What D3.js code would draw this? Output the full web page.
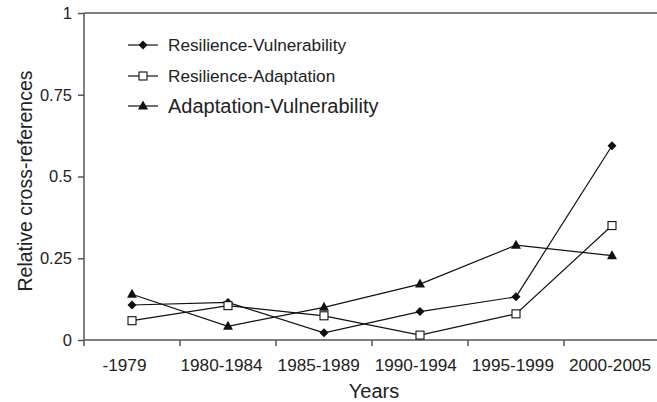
<!DOCTYPE html>
<html>
<head>
<meta charset="utf-8">
<script src="https://cdn.jsdelivr.net/npm/d3@7"></script>
<style>
  body { margin: 0; background: #fff; }
  text { font-family: "Liberation Sans", Arial, sans-serif; fill: #222; }
</style>
</head>
<body>
<div id="wrapper"></div>
<script>
// Chart data
const periods = ["-1979", "1980-1984", "1985-1989", "1990-1994", "1995-1999", "2000-2005"];
const resVul = [0.107, 0.115, 0.022, 0.087, 0.132, 0.594];
const resAda = [0.059, 0.105, 0.074, 0.015, 0.080, 0.350];
const adaVul = [0.140, 0.042, 0.100, 0.171, 0.290, 0.258];
const yTicks = [0, 0.25, 0.5, 0.75, 1];

const series = [
  { name: "Resilience-Vulnerability", values: resVul, marker: "diamond", size: 17.2 },
  { name: "Resilience-Adaptation", values: resAda, marker: "square", size: 17.2 },
  { name: "Adaptation-Vulnerability", values: adaVul, marker: "triangle", size: 20 }
];

const width = 657, height = 402;
const margin = { top: 13, right: -3, bottom: 62, left: 84 };

const svg = d3.select("#wrapper")
  .append("svg")
  .attr("width", width)
  .attr("height", height);

const x = d3.scaleBand()
  .domain(periods)
  .range([margin.left, width - margin.right]);

// tick labels sit a little left of the point centres in the original
const xLabel = d3.scalePoint()
  .domain(periods)
  .range([124.5, 610]);

const y = d3.scaleLinear()
  .domain([0, 1])
  .range([height - margin.bottom, margin.top]);

const axisColor = "#555";

// top border line
svg.append("line")
  .attr("x1", margin.left).attr("x2", width)
  .attr("y1", y(1)).attr("y2", y(1))
  .attr("stroke", axisColor).attr("stroke-width", 1.5);

// y axis
const yAxis = svg.append("g")
  .attr("transform", `translate(${margin.left},0)`)
  .call(d3.axisLeft(y).tickValues(yTicks).tickSize(6).tickPadding(6)
    .tickFormat(d => String(d)));
yAxis.selectAll("path, line").attr("stroke", axisColor).attr("stroke-width", 1.5);
yAxis.select(".domain").attr("d", `M0,${y(0)}V${y(1)}`);
yAxis.selectAll("text").style("font-size", "16.5px").attr("fill", "#222");

// x axis with ticks at band boundaries
const xAxisG = svg.append("g")
  .attr("transform", `translate(0,${y(0)})`);
xAxisG.append("line")
  .attr("x1", margin.left).attr("x2", width)
  .attr("stroke", axisColor).attr("stroke-width", 1.5);
xAxisG.selectAll(".xtick")
  .data(periods)
  .enter()
  .append("line")
    .attr("x1", d => x(d)).attr("x2", d => x(d))
    .attr("y1", 0).attr("y2", 6)
    .attr("stroke", axisColor).attr("stroke-width", 1.5);
xAxisG.selectAll(".xlabel")
  .data(periods)
  .enter()
  .append("text")
    .attr("x", d => xLabel(d))
    .attr("y", 31)
    .attr("text-anchor", "middle")
    .style("font-size", "17.2px")
    .text(d => d);

// axis titles
svg.append("text")
  .attr("x", 374)
  .attr("y", 398)
  .attr("text-anchor", "middle")
  .style("font-size", "20px")
  .text("Years");

svg.append("text")
  .attr("transform", "translate(32,181) rotate(-90)")
  .attr("text-anchor", "middle")
  .style("font-size", "19.5px")
  .text("Relative cross-references");

// markers
const drawMarker = (g, type, cx, cy) => {
  if (type === "diamond") {
    g.append("path")
      .attr("d", "M0,-4.5L4.5,0L0,4.5L-4.5,0Z")
      .attr("transform", `translate(${cx},${cy})`)
      .attr("fill", "#111");
  } else if (type === "square") {
    g.append("rect")
      .attr("x", cx - 4).attr("y", cy - 4)
      .attr("width", 8).attr("height", 8)
      .attr("fill", "#fff").attr("stroke", "#111").attr("stroke-width", 1.1);
  } else {
    g.append("path")
      .attr("d", "M0,-5.5L5,3.5L-5,3.5Z")
      .attr("transform", `translate(${cx},${cy})`)
      .attr("fill", "#111");
  }
};

const line = d3.line()
  .x((d, i) => x(periods[i]) + x.bandwidth() / 2)
  .y(d => y(d));

series.forEach(s => {
  svg.append("path")
    .datum(s.values)
    .attr("d", line)
    .attr("fill", "none")
    .attr("stroke", "#111")
    .attr("stroke-width", 1.2);
});

series.forEach(s => {
  const g = svg.append("g");
  s.values.forEach((v, i) => drawMarker(g, s.marker, x(periods[i]) + x.bandwidth() / 2, y(v)));
});

// legend
const legendY = [45, 76, 106];
series.forEach((s, i) => {
  const g = svg.append("g");
  g.append("line")
    .attr("x1", 128).attr("x2", 158)
    .attr("y1", legendY[i]).attr("y2", legendY[i])
    .attr("stroke", "#111").attr("stroke-width", 1.2);
  drawMarker(g, s.marker, 143, legendY[i]);
  g.append("text")
    .attr("x", 168)
    .attr("y", legendY[i])
    .attr("dy", "0.35em")
    .style("font-size", s.size + "px")
    .text(s.name);
});
</script>
</body>
</html>
